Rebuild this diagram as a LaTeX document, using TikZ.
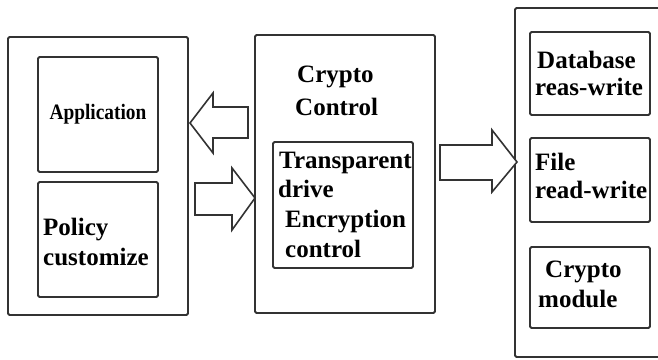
\documentclass[tikz,border=0pt]{standalone}
\usepackage{fontspec}
\setmainfont{Liberation Serif}
\begin{document}
\begin{tikzpicture}[x=1pt,y=-1pt,
  box/.style={draw=black!80, line width=1.8pt, rounded corners=1.5pt, inner sep=0pt, outer sep=0pt, anchor=north west},
  lbl/.style={anchor=base west, inner sep=0pt, font=\bfseries\fontsize{25}{30}\selectfont, text=black},
  blockarrow/.style={draw=black!80, line width=1.6pt, fill=white, line join=miter}]
\useasboundingbox (0,0) rectangle (658,359);
\clip (0,0) rectangle (658,359);
% boxes
\node[box, minimum width=180pt, minimum height=278pt] (left) at (8,37) {};
\node[box, minimum width=120pt, minimum height=115pt] (app) at (38,57) {};
\node[box, minimum width=120pt, minimum height=115pt] (policy) at (38,182) {};
\node[box, minimum width=180pt, minimum height=278pt] (mid) at (255,35) {};
\node[box, minimum width=140pt, minimum height=126pt] (inner) at (273,142) {};
\node[box, minimum width=170pt, minimum height=349pt] (right) at (515,8) {};
\node[box, minimum width=120pt, minimum height=83pt] (db) at (530,32) {};
\node[box, minimum width=120pt, minimum height=84pt] (file) at (530,138) {};
\node[box, minimum width=120pt, minimum height=81pt] (cm) at (530,247) {};
\draw[line width=2.6pt, black!80] (335,268) -- (355,268);
% block arrows
\draw[blockarrow] (190,123) -- (213,93) -- (213,107) -- (248,107) -- (248,138) -- (213,138) -- (213,153) -- cycle;
\draw[blockarrow] (195,183) -- (232,183) -- (232,168) -- (255,198) -- (232,230) -- (232,215) -- (195,215) -- cycle;
\draw[blockarrow] (440,145) -- (492,145) -- (492,130) -- (517,162) -- (492,192) -- (492,180) -- (440,180) -- cycle;
% texts
\node[inner sep=0pt, font=\bfseries\fontsize{22}{26}\selectfont, xscale=0.88] (apptext) at (app.center) {Application};
\node[lbl] (t1) at (43,235) {Policy};
\node[lbl] (t2) at (43,265) {customize};
\node[lbl] (t3) at (297,82) {Crypto};
\node[lbl] (t4) at (295,115) {Control};
\node[lbl] (t5) at (279,168) {Transparent};
\node[lbl] (t6) at (278,197) {drive};
\node[lbl] (t7) at (285,227) {Encryption};
\node[lbl] (t8) at (285,257) {control};
\node[lbl] (t9) at (537,68) {Database};
\node[lbl] (t10) at (535,95) {reas-write};
\node[lbl] (t11) at (535,170) {File};
\node[lbl] (t12) at (535,198) {read-write};
\node[lbl] (t13) at (545,277) {Crypto};
\node[lbl] (t14) at (538,307) {module};
\end{tikzpicture}
\end{document}
